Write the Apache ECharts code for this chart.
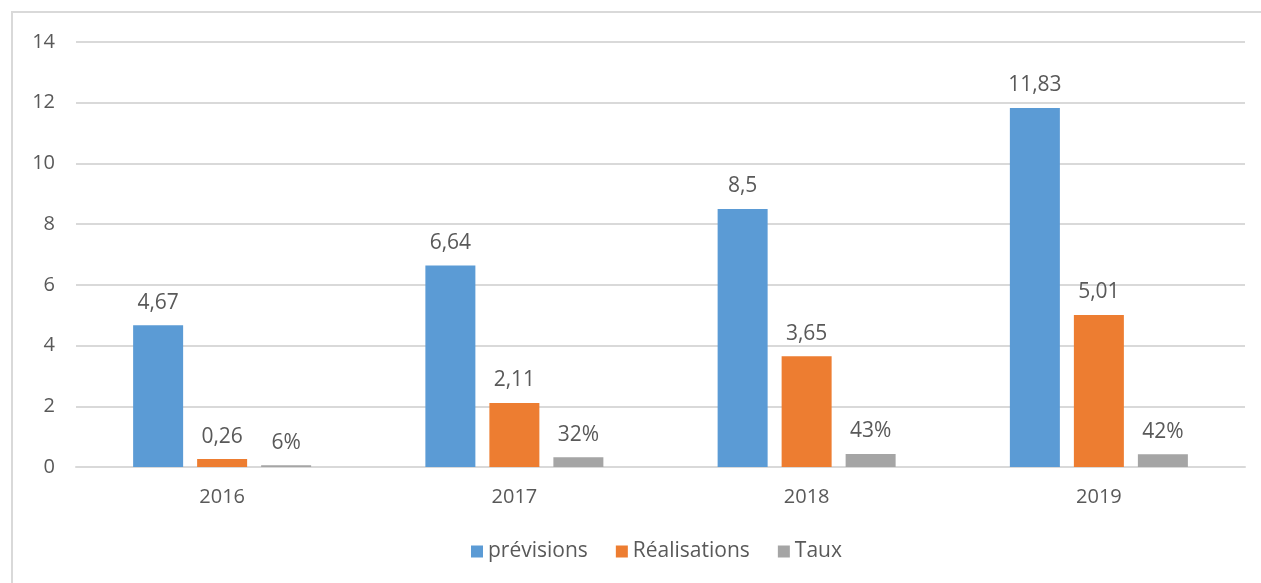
<!DOCTYPE html>
<html lang="fr">
<head>
    <meta charset="UTF-8">
    <title>Prévisions et réalisations</title>
    <script src="https://cdn.jsdelivr.net/npm/echarts@6/dist/echarts.min.js"></script>
    <style>
        body { margin: 0; background: #fff; }
        #chart { width: 1261px; height: 583px; }
    </style>
</head>
<body>
    <div id="chart"></div>
    <script>
        const years = ['2016', '2017', '2018', '2019']
        const previsions = [4.67, 6.64, 8.5, 11.83]
        const realisations = [0.26, 2.11, 3.65, 5.01]
        const taux = [0.06, 0.32, 0.43, 0.42]

        const font = '"Open Sans", sans-serif'
        const textColor = '#595959'

        const chart = echarts.init(document.getElementById('chart'))

        const frLabel = (v) => String(v).replace('.', ',')

        const makeLabel = (fmt) => ({
            show: true,
            position: 'top',
            distance: 12,
            color: textColor,
            fontFamily: font,
            fontSize: 21,
            formatter: (p) => fmt(p.value)
        })

        chart.setOption({
            animation: false,
            graphic: [{
                type: 'rect',
                shape: { x: 12, y: 12, width: 1260, height: 580 },
                style: { fill: 'none', stroke: '#d9d9d9', lineWidth: 2 }
            }],
            grid: { left: 76, right: 16, top: 42, bottom: 116 },
            legend: {
                bottom: 16,
                left: 466,
                itemWidth: 12,
                itemHeight: 12,
                itemGap: 28,
                icon: 'rect',
                textStyle: { color: textColor, fontFamily: font, fontSize: 21 },
                data: ['prévisions', 'Réalisations', 'Taux']
            },
            xAxis: {
                type: 'category',
                data: years,
                axisLine: { lineStyle: { color: '#d9d9d9', width: 2 } },
                axisTick: { show: false },
                axisLabel: { color: textColor, fontFamily: font, fontSize: 20, margin: 20 }
            },
            yAxis: {
                type: 'value',
                min: 0,
                max: 14,
                interval: 2,
                axisLine: { show: false },
                axisTick: { show: false },
                splitLine: { lineStyle: { color: '#d9d9d9', width: 2 } },
                axisLabel: { color: textColor, fontFamily: font, fontSize: 20, margin: 21 }
            },
            series: [{
                name: 'prévisions',
                type: 'bar',
                data: previsions,
                barWidth: 50,
                barGap: '28%',
                itemStyle: { color: '#5b9bd5' },
                label: makeLabel(frLabel)
            }, {
                name: 'Réalisations',
                type: 'bar',
                data: realisations,
                barWidth: 50,
                barGap: '28%',
                itemStyle: { color: '#ed7d31' },
                label: makeLabel(frLabel)
            }, {
                name: 'Taux',
                type: 'bar',
                data: taux,
                barWidth: 50,
                barGap: '28%',
                itemStyle: { color: '#a5a5a5' },
                label: makeLabel((v) => Math.round(v * 100) + '%')
            }]
        })
    </script>
</body>
</html>
